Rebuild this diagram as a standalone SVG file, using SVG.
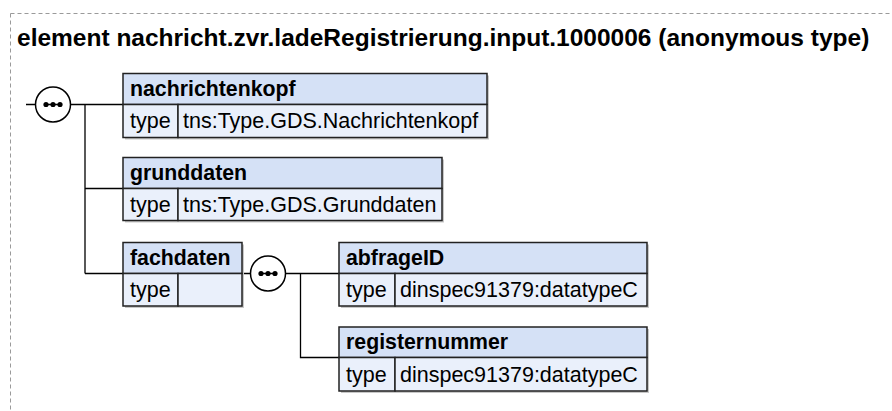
<svg xmlns="http://www.w3.org/2000/svg" width="892" height="411" viewBox="0 0 892 411">
<style>
.frame{fill:none;stroke:#9a9a9a;stroke-width:1;stroke-dasharray:4,3}
.title{font-family:"Liberation Sans",Arial,sans-serif;font-weight:bold;font-size:24.5px;fill:#000}
.hd{fill:#d5e1f6;stroke:#222;stroke-width:1.5}
.rw{fill:#eaf0fb;stroke:#222;stroke-width:1.5}
.sh{fill:#c8c8c8}
.name{font-family:"Liberation Sans",Arial,sans-serif;font-weight:bold;font-size:21.3px;fill:#000}
.txt{font-family:"Liberation Sans",Arial,sans-serif;font-size:21.5px;fill:#000}
.ln{fill:none;stroke:#000;stroke-width:1.3}
.seq{fill:#fff;stroke:#000;stroke-width:1.5}
</style>
<defs>
<g id="dots">
<line x1="-7" y1="0" x2="7" y2="0" stroke="#000" stroke-width="1.5"/>
<circle cx="-7" cy="0" r="2.6" fill="#000"/>
<circle cx="0" cy="0" r="2.6" fill="#000"/>
<circle cx="7" cy="0" r="2.6" fill="#000"/>
</g>
</defs>
<path class="frame" d="M10.5,13.5 H892 M10.5,13.5 V411"/>
<text class="title" x="17" y="46">element nachricht.zvr.ladeRegistrierung.input.1000006 (anonymous type)</text>
<g id="connectors">
<path class="ln" d="M26,104.5 H35.5 M70.5,104.5 H123 M85,104.5 V273.5 M85,188.5 H123 M85,273.5 H123"/>
<path class="ln" d="M242,273.5 H250.5 M285.5,273.5 H339 M300.5,273.5 V357.5 H339"/>
</g>
<g id="seq1">
<circle class="seq" cx="53" cy="104.5" r="17.5"/>
<use href="#dots" x="53" y="104.5"/>
</g>
<g id="seq2">
<circle class="seq" cx="268" cy="273.5" r="17.5"/>
<use href="#dots" x="268" y="273.5"/>
</g>
<g id="nachrichtenkopf">
<rect class="sh" x="125" y="75.5" width="364" height="64"/>
<rect class="hd" x="123" y="73.5" width="364" height="31"/>
<rect class="rw" x="123" y="104.5" width="55" height="33"/>
<rect class="rw" x="178" y="104.5" width="309" height="33"/>
<text class="name" x="130" y="96">nachrichtenkopf</text>
<text class="txt" x="130" y="128">type</text>
<text class="txt" x="183" y="128">tns:Type.GDS.Nachrichtenkopf</text>
</g>
<g id="grunddaten">
<rect class="sh" x="125" y="159.5" width="319" height="63"/>
<rect class="hd" x="123" y="157.5" width="319" height="31"/>
<rect class="rw" x="123" y="188.5" width="55" height="32"/>
<rect class="rw" x="178" y="188.5" width="264" height="32"/>
<text class="name" x="130" y="180">grunddaten</text>
<text class="txt" x="130" y="212">type</text>
<text class="txt" x="183" y="212">tns:Type.GDS.Grunddaten</text>
</g>
<g id="fachdaten">
<rect class="sh" x="125" y="244.5" width="119" height="63.5"/>
<rect class="hd" x="123" y="242.5" width="119" height="31"/>
<rect class="rw" x="123" y="273.5" width="55" height="32.5"/>
<rect class="rw" x="178" y="273.5" width="64" height="32.5"/>
<text class="name" x="130" y="265">fachdaten</text>
<text class="txt" x="130" y="297">type</text>
</g>
<g id="abfrageID">
<rect class="sh" x="341" y="244.5" width="308" height="63.5"/>
<rect class="hd" x="339" y="242.5" width="308" height="31"/>
<rect class="rw" x="339" y="273.5" width="56" height="32.5"/>
<rect class="rw" x="395" y="273.5" width="252" height="32.5"/>
<text class="name" x="346" y="265">abfrageID</text>
<text class="txt" x="346" y="297">type</text>
<text class="txt" x="400" y="297">dinspec91379:datatypeC</text>
</g>
<g id="registernummer">
<rect class="sh" x="341" y="329" width="308" height="64"/>
<rect class="hd" x="339" y="327" width="308" height="30.5"/>
<rect class="rw" x="339" y="357.5" width="56" height="33.5"/>
<rect class="rw" x="395" y="357.5" width="252" height="33.5"/>
<text class="name" x="346" y="349">registernummer</text>
<text class="txt" x="346" y="382">type</text>
<text class="txt" x="400" y="382">dinspec91379:datatypeC</text>
</g>
</svg>
